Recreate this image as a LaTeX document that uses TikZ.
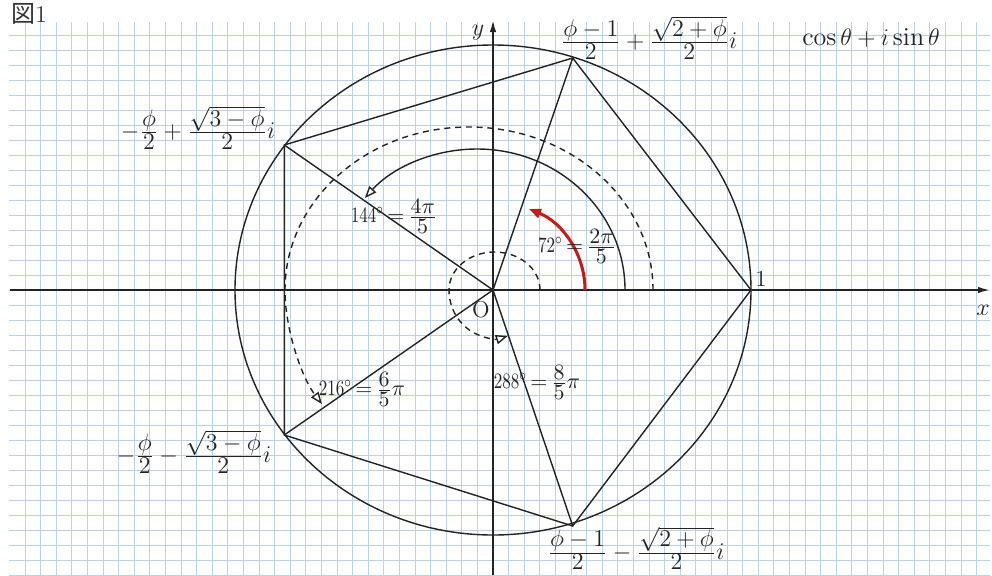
\documentclass[tikz,border=0pt]{standalone}
\usepackage{amsmath}
\usepackage{graphicx}
\usepackage{fontspec}
\newfontfamily\cjk{Noto Sans CJK JP}
\usetikzlibrary{arrows.meta}
\definecolor{gridblue}{RGB}{185,210,234}
\definecolor{inkc}{RGB}{35,35,35}
\definecolor{redarc}{RGB}{200,25,25}
\newcommand\fr[2]{\genfrac{}{}{}{1}{\textstyle #1}{\textstyle #2}}
\newcommand\afr[2]{\fr{\rule[-1.2pt]{0pt}{1pt}#1}{\rule{0pt}{7.8pt}#2}}
\newcommand\degnum[1]{\scalebox{0.78}[1]{$#1^\circ$}}
\begin{document}
\begin{tikzpicture}[x=0.5pt,y=-0.5pt,
  gridline/.style={draw=gridblue, line width=0.35pt},
  ink/.style={draw=inkc, line width=0.7pt},
  axisline/.style={draw=inkc, line width=0.9pt, -{Latex[length=6pt,width=3.2pt]}},
  dasharc/.style={ink, dash pattern=on 3pt off 2.4pt},
  openhead/.style={-{Triangle[length=6pt,width=4.6pt,fill=white]}},
  lbl/.style={font=\fontsize{11.5}{13}\selectfont, inner sep=0pt, text=inkc},
  vlbl/.style={lbl, anchor=base},
  albl/.style={font=\fontsize{11}{13}\selectfont, inner sep=0pt, text=inkc, anchor=base},
]
\useasboundingbox (0,0) rectangle (992,575);
\fill[white] (0,0) rectangle (992,575);
% grid (cells 15.6 x 15 px, lines through the origin)
\begin{scope}[shift={(493,290)}]
  \draw[gridline, xstep=7.8pt, ystep=7.5pt] (-483.6,285) grid (497,-268);
\end{scope}
% points
\coordinate (O) at (493,290);
\coordinate (P1) at (751,290);
\coordinate (P2) at (572.7,58);
\coordinate (P3) at (284.3,145);
\coordinate (P4) at (284.3,435);
\coordinate (P5) at (572.7,526);
\coordinate (xs) at (10,290);
\coordinate (xe) at (990,290);
\coordinate (ys) at (493,575);
\coordinate (ye) at (493,20);
% axes
\draw[axisline] (xs) -- (xe);
\draw[axisline] (ys) -- (ye);
% unit circle
\draw[ink] (O) ellipse [x radius=258, y radius=245];
% pentagon and radii
\draw[ink] (P1) -- (P2) -- (P3) -- (P4) -- (P5) -- cycle;
\draw[ink] (O) -- (P2) (O) -- (P3) (O) -- (P4) (O) -- (P5);
% angle arcs
\draw[ink, openhead] (625,290) arc[start angle=0, end angle=-139.3, x radius=148, y radius=141];
\draw[dasharc, openhead] (653,290) arc[start angle=0, end angle=-180, x radius=184, y radius=163]
   .. controls (285,330) and (302,378) .. (322,404);
\draw[dasharc, openhead] (540,290) arc[start angle=0, end angle=-180, x radius=45.5, y radius=38]
   arc[start angle=-180, end angle=-287, x radius=45.5, y radius=48];
\draw[draw=redarc, line width=1.5pt, openhead] (585,290) arc[start angle=0, end angle=-67, x radius=92, y radius=88];
% labels
\node[lbl] (ly) at (478,33) {$y$};
\node[lbl] (lx) at (983,310) {$x$};
\node[lbl] (lO) at (481,310) {O};
\node[lbl] (l1) at (761,279) {1};
\node[lbl, font=\fontsize{12}{14}\selectfont, text=black!80] (fig) at (29,14) {\cjk 図\rmfamily 1};
\node[lbl, font=\fontsize{13}{15}\selectfont] (euler) at (871,38) {$\cos\theta+i\sin\theta$};
\node[vlbl] (v2) at (649,48.5) {$\fr{\phi-1}{2}+\fr{\sqrt{2+\phi}}{2}i$};
\node[vlbl] (v3) at (198,138.75) {$-\fr{\phi}{2}+\fr{\sqrt{3-\phi}}{2}i$};
\node[vlbl] (v4) at (194,462.5) {$-\fr{\phi}{2}-\fr{\sqrt{3-\phi}}{2}i$};
\node[vlbl] (v5) at (636,559) {$\fr{\phi-1}{2}-\fr{\sqrt{2+\phi}}{2}i$};
\node[albl] (a72) at (577,252.5) {\degnum{72}$\,{=}\,\afr{2\pi}{5}$};
\node[albl] (a144) at (394,222.5) {\degnum{144}$\,{=}\,\afr{4\pi}{5}$};
\node[albl] (a216) at (362,395.5) {\degnum{216}$\,{=}\,\afr{6}{5}\pi$};
\node[albl] (a288) at (537,388.5) {\degnum{288}$\,{=}\,\afr{8}{5}\pi$};
\end{tikzpicture}
\end{document}
